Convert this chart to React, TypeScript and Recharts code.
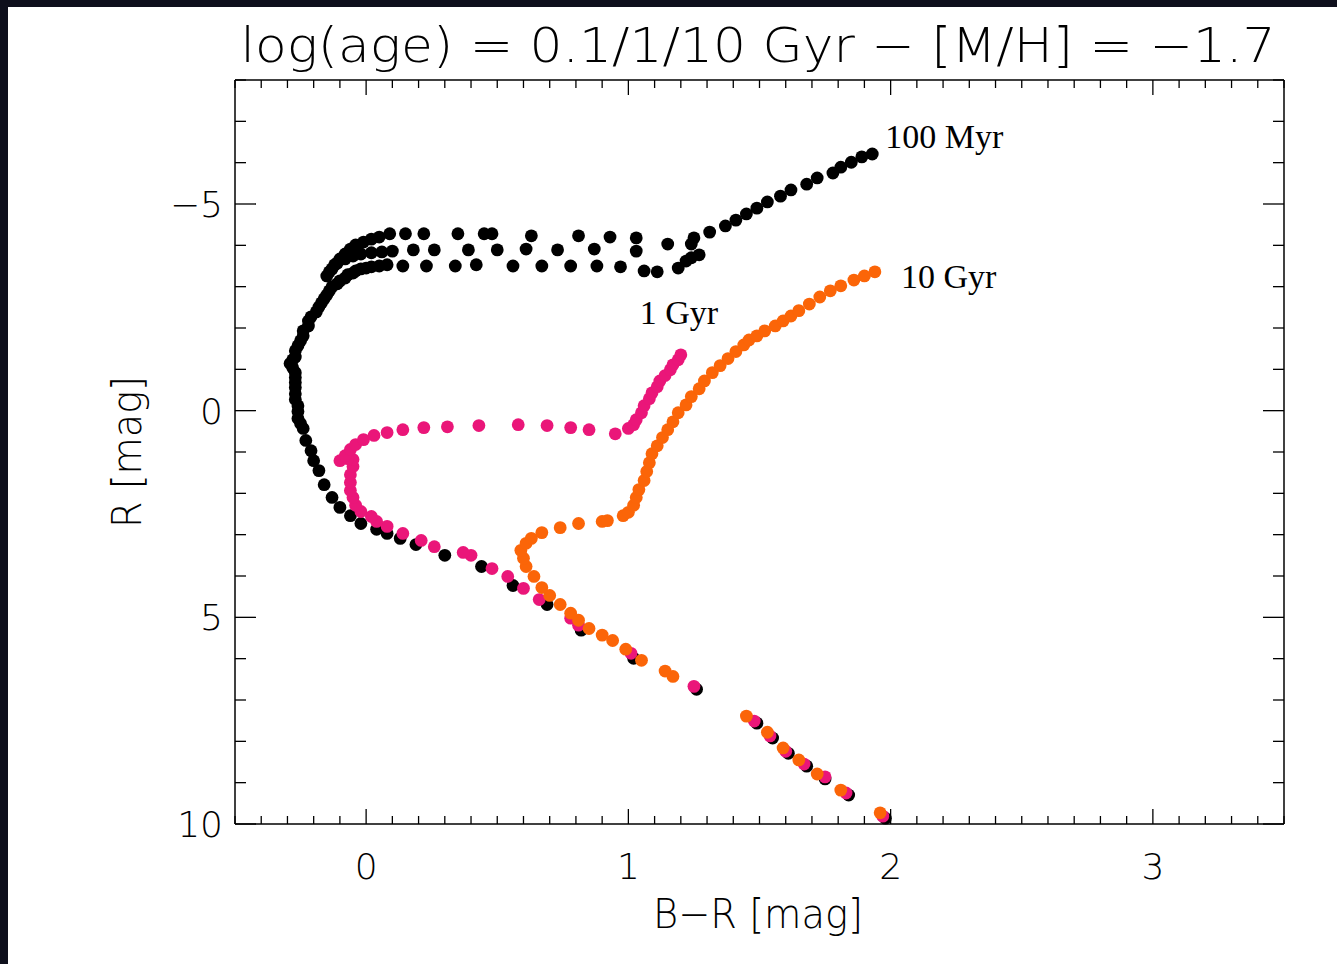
import { ReferenceDot, Scatter, ScatterChart, XAxis, YAxis } from 'recharts'

const MYR100_BR = [
  1.98, 1.84, 1.75, 1.68, 1.61, 1.55, 1.49, 1.26, 1.02, 0.82, 0.69, 0.56, 0.44, 0.3, 0.19, 0.13, 0.08, 0.04,
  -0.02, -0.06, -0.1, -0.13, -0.16, -0.18, -0.2, -0.21, -0.23,
  -0.24, -0.25, -0.26, -0.26, -0.26, -0.27, -0.27, -0.27, -0.27, -0.27, -0.27, -0.28, -0.29, -0.28, -0.27,
  -0.27, -0.26, -0.25, -0.24, -0.24, -0.22, -0.22, -0.21, -0.19, -0.18, -0.17, -0.16, -0.15, -0.14, -0.13,
  -0.11, -0.1, -0.08, -0.07, -0.05, -0.04, -0.02, 0.0, 0.02, 0.05, 0.08,
  0.14, 0.23, 0.34, 0.42, 0.56, 0.67, 0.78, 0.88, 0.97, 1.06, 1.11, 1.19, 1.22, 1.24, 1.27,
  1.24, 1.15, 1.03, 0.87, 0.73, 0.61, 0.5, 0.39, 0.26, 0.18, 0.1, 0.06, 0.02, -0.02, -0.05, -0.08, -0.11,
  -0.13, -0.15, -0.14, -0.12, -0.1, -0.08, -0.06, -0.04, -0.01, 0.02, 0.05,
  0.09, 0.15, 0.22, 0.35, 0.45, 0.48, 0.63, 0.81, 0.93, 1.03, 1.25, 1.31, 1.37, 1.41, 1.45, 1.49, 1.53, 1.58,
  1.62, 1.68, 1.72, 1.78, 1.81, 1.85, 1.89, 1.93,
]
const MYR100_R = [
  9.86, 9.3, 8.91, 8.6, 8.29, 7.92, 7.56, 6.74, 5.99, 5.31, 4.69, 4.23, 3.77, 3.5, 3.24, 3.09, 2.97, 2.87,
  2.73, 2.54, 2.34, 2.1, 1.79, 1.45, 1.21, 0.97, 0.72,
  0.43, 0.31, 0.19, 0.02, -0.12, -0.27, -0.41, -0.56, -0.68, -0.8, -0.92, -1.04, -1.14, -1.23, -1.3,
  -1.45, -1.57, -1.69, -1.81, -1.93, -2.05, -2.17, -2.27, -2.39, -2.51, -2.61, -2.71, -2.8, -2.9, -3.0,
  -3.07, -3.14, -3.21, -3.29, -3.33, -3.38, -3.43, -3.45, -3.48, -3.5, -3.53,
  -3.5, -3.5, -3.5, -3.53, -3.5, -3.5, -3.5, -3.5, -3.48, -3.38, -3.36, -3.45, -3.62, -3.7, -3.77,
  -4.03, -4.03, -3.86, -3.91, -3.89, -3.91, -3.89, -3.89, -3.89, -3.89, -3.86, -3.84, -3.82, -3.79, -3.74, -3.67, -3.57,
  -3.43, -3.26, -3.36, -3.53, -3.67, -3.79, -3.91, -4.01, -4.08, -4.15, -4.2,
  -4.28, -4.28, -4.28, -4.28, -4.28, -4.28, -4.23, -4.23, -4.2, -4.18, -4.18, -4.32, -4.47, -4.61, -4.76, -4.9, -5.05, -5.19,
  -5.34, -5.48, -5.63, -5.75, -5.89, -6.01, -6.14, -6.21,
]

const GYR1_BR = [
  1.97, 1.83, 1.75, 1.67, 1.6, 1.54, 1.48, 1.25, 1.01, 0.81, 0.78, 0.66, 0.6, 0.54, 0.48, 0.4, 0.37, 0.26,
  0.21, 0.14, 0.08, 0.04, 0.02, -0.02, -0.04, -0.05, -0.06, -0.06, -0.06, -0.05, -0.05, -0.07, -0.1, -0.08,
  -0.06, -0.04, -0.01, 0.03, 0.08, 0.14, 0.22, 0.31, 0.43, 0.58, 0.69, 0.78, 0.85, 0.95, 1.0, 1.02, 1.03,
  1.05, 1.06, 1.08, 1.09, 1.11, 1.12, 1.14, 1.16, 1.17, 1.19, 1.2,
]
const GYR1_R = [
  9.81, 9.25, 8.86, 8.55, 8.24, 7.87, 7.51, 6.67, 5.87, 5.19, 5.02, 4.57, 4.3, 4.01, 3.82, 3.5, 3.43, 3.29,
  3.14, 2.97, 2.8, 2.68, 2.56, 2.44, 2.29, 2.1, 1.93, 1.74, 1.55, 1.35, 1.18, 1.16, 1.21, 1.09,
  0.94, 0.82, 0.7, 0.6, 0.53, 0.46, 0.41, 0.39, 0.36, 0.34, 0.36, 0.41, 0.46, 0.56, 0.43, 0.34, 0.22,
  0.05, -0.12, -0.29, -0.43, -0.58, -0.72, -0.85, -0.99, -1.11, -1.23, -1.35,
]

const GYR10_BR = [
  1.96, 1.81, 1.72, 1.65, 1.59, 1.53, 1.45, 1.17, 1.14, 1.05, 0.99, 0.94, 0.9, 0.85, 0.81, 0.78, 0.74, 0.7,
  0.67, 0.64, 0.61, 0.6, 0.59, 0.61, 0.63, 0.67, 0.74, 0.81, 0.9, 0.92, 0.98, 1.0, 1.02, 1.03, 1.04, 1.06,
  1.07, 1.08, 1.09, 1.11, 1.13, 1.15, 1.17, 1.19, 1.22, 1.24, 1.27, 1.29, 1.32, 1.35, 1.38, 1.41, 1.44, 1.46,
  1.49, 1.52, 1.56, 1.59, 1.62, 1.65, 1.69, 1.73, 1.77, 1.81, 1.86, 1.9, 1.94,
]
const GYR10_R = [
  9.73, 9.18, 8.79, 8.45, 8.16, 7.78, 7.39, 6.43, 6.3, 6.04, 5.77, 5.56, 5.43, 5.27, 5.07, 4.9, 4.69, 4.47,
  4.28, 4.01, 3.77, 3.57, 3.38, 3.21, 3.09, 2.95, 2.83, 2.73, 2.68, 2.66, 2.54, 2.46, 2.29, 2.1, 1.91, 1.69,
  1.47, 1.26, 1.04, 0.85, 0.65, 0.46, 0.27, 0.05, -0.14, -0.34, -0.53, -0.72, -0.92, -1.09, -1.26, -1.43, -1.59, -1.71,
  -1.81, -1.93, -2.05, -2.17, -2.29, -2.42, -2.58, -2.75, -2.9, -3.02, -3.16, -3.26, -3.36,
]

const SERIES_NAMES = ['100 Myr', '1 Gyr', '10 Gyr']
const X_LABELS = [0, 1, 2, 3]
const Y_LABELS = [-5, 0, 5, 10]

const zip = (br: number[], r: number[]) => br.map((v, i) => ({ br: v, r: r[i] }))
const myr100 = zip(MYR100_BR, MYR100_R)
const gyr1 = zip(GYR1_BR, GYR1_R)
const gyr10 = zip(GYR10_BR, GYR10_R)

// minor ticks every 0.1 in colour, every 1 mag in R
const xTicks: number[] = []
for (let i = -5; i <= 35; i++) xTicks.push(i / 10)
const yTicks: number[] = []
for (let i = -8; i <= 10; i++) yTicks.push(i)

const FONT = '"DejaVu Sans", sans-serif'
const minus = (v: number) => (v < 0 ? '\u2212' + Math.abs(v) : String(v))
const isMajorX = (v: number) => X_LABELS.includes(v)
const isMajorY = (v: number) => Y_LABELS.includes(v)

const dot = (color: string) => (p: any) => <circle cx={p.cx} cy={p.cy} r={6.4} fill={color} />

const ageLabel = (text: string, dx: number, dy: number) => (p: any) => {
  const vb = p.viewBox || {}
  return (
    <text x={(vb.x ?? 0) + dx} y={(vb.y ?? 0) + dy} fontFamily='"Liberation Serif", serif' fontSize={34} fill="#000">
      {text}
    </text>
  )
}

export default function App() {
  const last = (d: { br: number; r: number }[]) => d[d.length - 1]
  return (
    <div style={{ position: 'fixed', left: 0, top: 0, width: 1337, height: 964, background: '#0e0f1c', overflow: 'hidden' }}>
      <div style={{ position: 'absolute', left: 8, top: 7, width: 1400, height: 1000, background: '#fff' }}>
        <ScatterChart width={1329} height={957} margin={{ top: 72, right: 52, bottom: 0, left: 0 }}>
          <XAxis
            xAxisId="b"
            dataKey="br"
            type="number"
            domain={[-0.5, 3.5]}
            ticks={xTicks}
            interval={0}
            height={140}
            tickSize={0}
            tickMargin={0}
            axisLine={{ stroke: '#000', strokeWidth: 1.5 }}
            tickLine={false}
            tick={(p: any) => {
              const v = p.payload.value
              const major = isMajorX(v)
              return (
                <g>
                  <line x1={p.x} x2={p.x} y1={p.y} y2={p.y - (major ? 15 : 8)} stroke="#000" strokeWidth={1.3} />
                  {major && (
                    <text x={p.x} y={p.y + 55} textAnchor="middle" fontFamily={FONT} fontWeight={200} fontSize={36} fill="#000">
                      {minus(v)}
                    </text>
                  )}
                </g>
              )
            }}
          />
          <XAxis
            xAxisId="t"
            dataKey="br"
            orientation="top"
            type="number"
            domain={[-0.5, 3.5]}
            ticks={xTicks}
            interval={0}
            height={1}
            tickSize={0}
            tickMargin={0}
            axisLine={{ stroke: '#000', strokeWidth: 1.5 }}
            tickLine={false}
            tick={(p: any) => (
              <line x1={p.x} x2={p.x} y1={p.y} y2={p.y + (isMajorX(p.payload.value) ? 15 : 8)} stroke="#000" strokeWidth={1.3} />
            )}
          />
          <YAxis
            yAxisId="l"
            dataKey="r"
            type="number"
            domain={[-8, 10]}
            reversed
            ticks={yTicks}
            interval={0}
            width={227}
            tickSize={0}
            tickMargin={0}
            axisLine={{ stroke: '#000', strokeWidth: 1.5 }}
            tickLine={false}
            tick={(p: any) => {
              const v = p.payload.value
              const major = isMajorY(v)
              return (
                <g>
                  <line x1={p.x} x2={p.x + (major ? 21 : 11)} y1={p.y} y2={p.y} stroke="#000" strokeWidth={1.3} />
                  {major && (
                    <text x={p.x - 12} y={p.y + 13} textAnchor="end" fontFamily={FONT} fontWeight={200} fontSize={36} fill="#000">
                      {minus(v)}
                    </text>
                  )}
                </g>
              )
            }}
          />
          <YAxis
            yAxisId="r"
            dataKey="r"
            orientation="right"
            type="number"
            domain={[-8, 10]}
            reversed
            ticks={yTicks}
            interval={0}
            width={1}
            tickSize={0}
            tickMargin={0}
            axisLine={{ stroke: '#000', strokeWidth: 1.5 }}
            tickLine={false}
            tick={(p: any) => (
              <line x1={p.x} x2={p.x - (isMajorY(p.payload.value) ? 21 : 11)} y1={p.y} y2={p.y} stroke="#000" strokeWidth={1.3} />
            )}
          />
          {/* invisible series so the mirrored top/right axes get drawn */}
          <Scatter data={myr100} xAxisId="t" yAxisId="r" shape={() => <g />} isAnimationActive={false} />
          <Scatter name={SERIES_NAMES[0]} data={myr100} xAxisId="b" yAxisId="l" shape={dot('#000000')} isAnimationActive={false} />
          <Scatter name={SERIES_NAMES[1]} data={gyr1} xAxisId="b" yAxisId="l" shape={dot('#ea1679')} isAnimationActive={false} />
          <Scatter name={SERIES_NAMES[2]} data={gyr10} xAxisId="b" yAxisId="l" shape={dot('#fb6508')} isAnimationActive={false} />
          <ReferenceDot xAxisId="b" yAxisId="l" x={last(myr100).br} y={last(myr100).r} r={0} stroke="none" fill="none" label={ageLabel(SERIES_NAMES[0], 13, -6)} />
          <ReferenceDot xAxisId="b" yAxisId="l" x={last(gyr1).br} y={last(gyr1).r} r={0} stroke="none" fill="none" label={ageLabel(SERIES_NAMES[1], -41, -31)} />
          <ReferenceDot xAxisId="b" yAxisId="l" x={last(gyr10).br} y={last(gyr10).r} r={0} stroke="none" fill="none" label={ageLabel(SERIES_NAMES[2], 26, 16)} />
        </ScatterChart>
        <svg width={1329} height={957} style={{ position: 'absolute', left: 0, top: 0, pointerEvents: 'none' }}>
          <text x={750} y={55} textAnchor="middle" fontFamily={FONT} fontWeight={200} fontSize={48} textLength={1035} lengthAdjust="spacingAndGlyphs" fill="#000">
            log(age) = 0.1/1/10 Gyr {'\u2212'} [M/H] = {'\u2212'}1.7
          </text>
          <text x={750} y={921} textAnchor="middle" fontFamily={FONT} fontWeight={200} fontSize={41} textLength={210} lengthAdjust="spacingAndGlyphs" fill="#000">
            B{'\u2212'}R [mag]
          </text>
          <text x={133} y={445} textAnchor="middle" transform="rotate(-90 133 445)" fontFamily={FONT} fontWeight={200} fontSize={41} textLength={152} lengthAdjust="spacingAndGlyphs" fill="#000">
            R [mag]
          </text>
        </svg>
      </div>
    </div>
  )
}
